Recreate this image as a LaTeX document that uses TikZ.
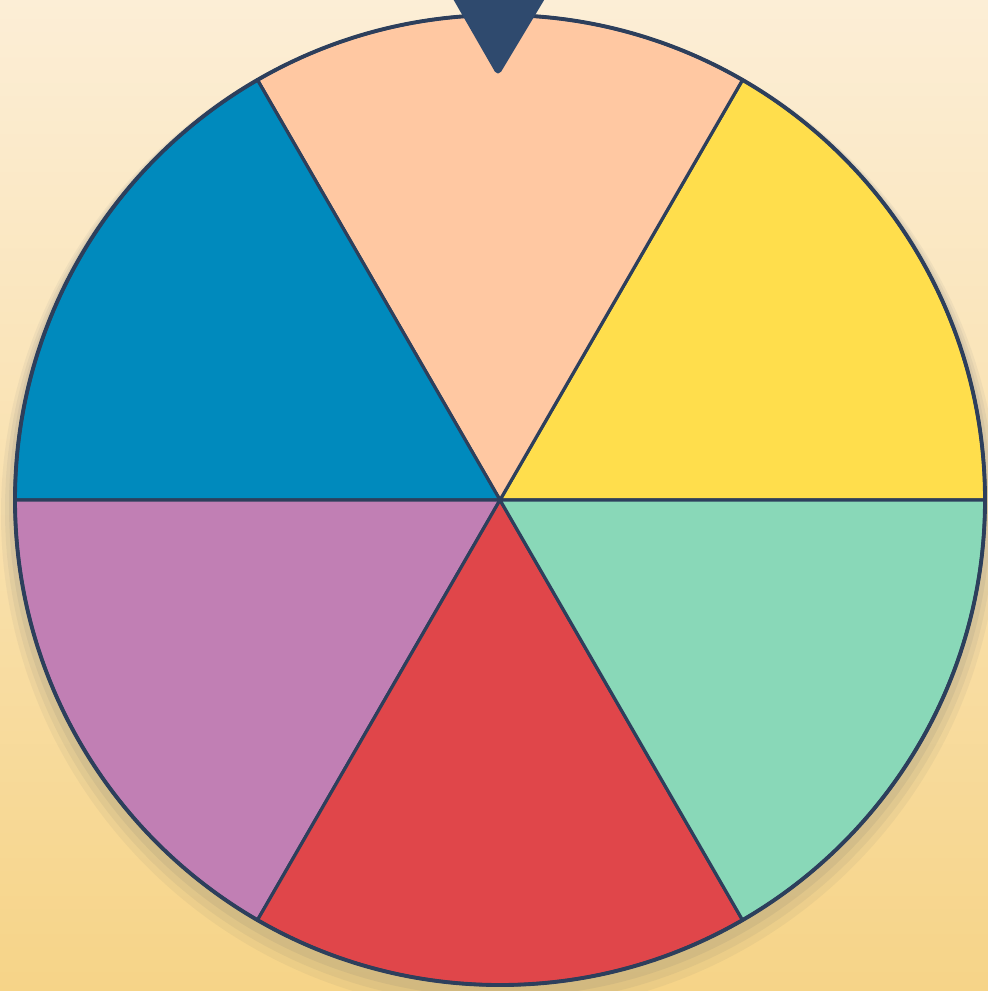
\documentclass[tikz,border=0pt]{standalone}
\usetikzlibrary{calc}
\definecolor{SpinCream}{HTML}{FCEED6}
\definecolor{SpinSand}{HTML}{F6D488}
\definecolor{SpinInk}{HTML}{2D3F5C}
\definecolor{SpinNavy}{HTML}{2F4A6E}
\definecolor{SpinPeach}{HTML}{FFC8A2}
\definecolor{SpinYellow}{HTML}{FFDE4C}
\definecolor{SpinBlue}{HTML}{008ABD}
\definecolor{SpinMauve}{HTML}{C17FB4}
\definecolor{SpinRed}{HTML}{E0464A}
\definecolor{SpinMint}{HTML}{89D8B8}
\tikzset{
  slice/.style={draw=SpinInk, line width=0.9pt, line join=round},
  rim/.style={draw=SpinInk, line width=1.1pt},
  pointer/.style={fill=SpinNavy, draw=SpinNavy, line width=2pt, line join=round},
}
\begin{document}
\begin{tikzpicture}[x=0.01cm, y=-0.01cm]

  % backdrop with soft gradient
  \shade[top color=SpinCream, bottom color=SpinSand]
    (0,0) rectangle (988,991);
  \useasboundingbox (0,0) rectangle (988,991);

  \coordinate (hub) at (500,500);

  % faint shadow under the wheel
  \foreach \s/\o in {14/0.05, 10/0.06, 6/0.07}
    \fill[SpinInk, opacity=\o] ($(hub)+(0,\s)$) circle[radius=485+\s];

  % six sectors
  \foreach \a/\c in {0/SpinYellow, 60/SpinPeach, 120/SpinBlue,
                     180/SpinMauve, 240/SpinRed, 300/SpinMint}
    \filldraw[slice, fill=\c] (hub) -- ++(-\a:485)
      arc[start angle=-\a, end angle=-\a-60, radius=485] -- cycle;

  \draw[rim] (hub) circle[radius=485];

  % pointer at the top
  \coordinate (tipL) at (452,-10);
  \coordinate (tipR) at (546,-10);
  \coordinate (tip) at (498,70);
  \filldraw[pointer] (tipL) -- (tipR) -- (tip) -- cycle;

\end{tikzpicture}
\end{document}
